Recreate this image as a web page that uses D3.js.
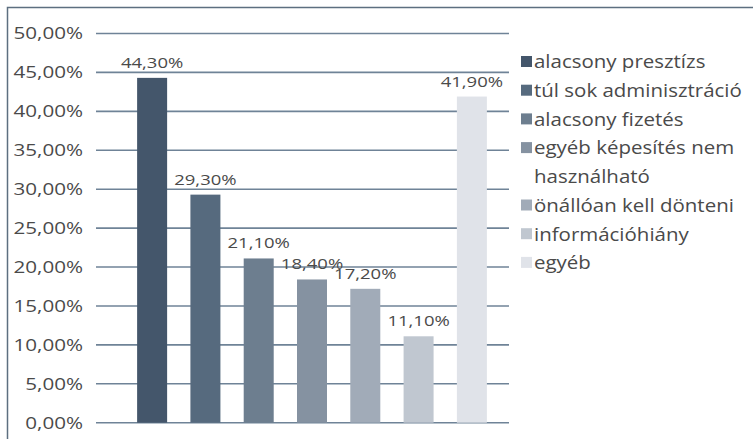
<!DOCTYPE html>
<html>
<head>
<meta charset="utf-8">
<script src="https://cdn.jsdelivr.net/npm/d3@7"></script>
<style>
  html, body { margin: 0; padding: 0; background: #fff; }
  svg { display: block; }
  text { font-family: "Open Sans", Lato, sans-serif; fill: #4a4a4a; }
</style>
</head>
<body>
<svg id="chart" width="753" height="439"></svg>
<script>
// Reasons reported, share of respondents (%)
const categories = [
  "alacsony presztízs",
  "túl sok adminisztráció",
  "alacsony fizetés",
  "egyéb képesítés nem használható",
  "önállóan kell dönteni",
  "információhiány",
  "egyéb"
];
const values = [44.3, 29.3, 21.1, 18.4, 17.2, 11.1, 41.9];
const legendLines = [
  ["alacsony presztízs"],
  ["túl sok adminisztráció"],
  ["alacsony fizetés"],
  ["egyéb képesítés nem", "használható"],
  ["önállóan kell dönteni"],
  ["információhiány"],
  ["egyéb"]
];
const colors = ["#44566b", "#566a7e", "#6d7e8f", "#8592a1", "#a1abb8", "#c0c7d0", "#e0e3e9"];
const yTicks = [0, 5, 10, 15, 20, 25, 30, 35, 40, 45, 50];

const fmt = v => v.toFixed(2).replace(".", ",") + "%";
// text is set in a horizontally widened face
const wide = (x, y, s) => `translate(${x},${y}) scale(${s},1)`;

const svg = d3.select("#chart");

// outer frame (top and left edges)
svg.append("path")
  .attr("d", "M7.5,439 L7.5,7.5 L753,7.5")
  .attr("fill", "none")
  .attr("stroke", "#5d6f80")
  .attr("stroke-width", 1.5);

const y = d3.scaleLinear().domain([0, 50]).range([422.7, 33.5]);
const x = d3.scaleBand().domain(categories).range([125.5, 498.5]).paddingInner(0.437).paddingOuter(0.218);

const gridX0 = 96, gridX1 = 509;

// horizontal gridlines
svg.append("g").selectAll("line")
  .data(yTicks)
  .join("line")
  .attr("x1", gridX0).attr("x2", gridX1)
  .attr("y1", d => y(d)).attr("y2", d => y(d))
  .attr("stroke", "#6f8397")
  .attr("stroke-width", 1.6);

// y axis labels
svg.append("g").selectAll("text")
  .data(yTicks)
  .join("text")
  .attr("transform", d => wide(83, y(d), 1.25))
  .attr("dy", "0.36em")
  .attr("text-anchor", "end")
  .style("font-size", "16.5px")
  .text(d => fmt(d));

// bars
svg.append("g").selectAll("rect")
  .data(values)
  .join("rect")
  .attr("x", (d, i) => x(categories[i]))
  .attr("width", x.bandwidth())
  .attr("y", d => y(d))
  .attr("height", d => y(0) - y(d))
  .attr("fill", (d, i) => colors[i]);

// value labels
svg.append("g").selectAll("text")
  .data(values)
  .join("text")
  .attr("transform", (d, i) => wide(x(categories[i]) + x.bandwidth() / 2, y(d) - 10, 1.25))
  .attr("text-anchor", "middle")
  .style("font-size", "14.8px")
  .text(d => fmt(d));

// legend
const legendTop = 62, rowH = 28.7;
let row = 0;
const legend = svg.append("g");
legendLines.forEach((lines, i) => {
  const cy = legendTop + row * rowH;
  legend.append("rect")
    .attr("x", 521).attr("y", cy - 6)
    .attr("width", 11).attr("height", 11)
    .attr("fill", colors[i]);
  lines.forEach((ln, j) => {
    legend.append("text")
      .attr("transform", wide(534, cy + j * rowH, 1.17))
      .attr("dy", "0.36em")
      .style("font-size", "17.5px")
      .text(ln);
  });
  row += lines.length;
});
</script>
</body>
</html>
